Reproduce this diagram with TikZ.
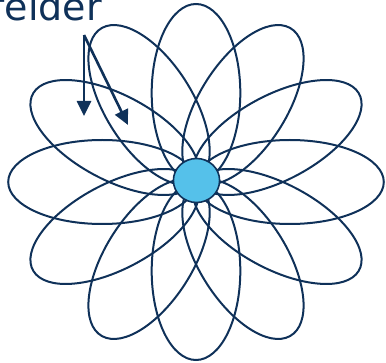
\documentclass[tikz,border=0pt]{standalone}
\usepackage{fontspec}
\setmainfont{DejaVu Sans}
\usepackage{tikz}
\usetikzlibrary{arrows.meta,positioning}
\definecolor{navy}{HTML}{0F3159}
\definecolor{hubblue}{HTML}{55C1EA}

\begin{document}
\begin{tikzpicture}[x=1pt,y=1pt,
  petal/.style={draw=navy,line width=2pt},
  hub/.style={circle,draw=navy,line width=1.6pt,fill=hubblue,inner sep=0pt,minimum size=44pt,xscale=1.05},
  lab/.style={text=navy,inner sep=0pt,font=\fontsize{38}{38}\selectfont},
  ptr/.style={draw=navy,line width=2.6pt,-{Triangle[length=15pt,width=14pt]}}]
  \useasboundingbox (0,0) rectangle (386,-363);
  \coordinate (mid) at (196,-182);
  % twelve petals round the middle
  \begin{scope}[shift={(mid)},xscale=1.055]
    \foreach \a in {0,30,...,330}
      \draw[petal,rotate=\a] (89,0) ellipse [x radius=89,y radius=42];
  \end{scope}
  \node[hub] (core) at (196.5,-180.5) {};
  \node[lab,anchor=base east] (felder) at (102,-20.7) {felder};
  \coordinate (fork) at (84,-35);
  \coordinate (tipa) at (84,-116);
  \coordinate (tipb) at (128,-125);
  \draw[ptr] (fork) -- (tipa);
  \draw[ptr] (fork) -- (tipb);
\end{tikzpicture}
\end{document}
